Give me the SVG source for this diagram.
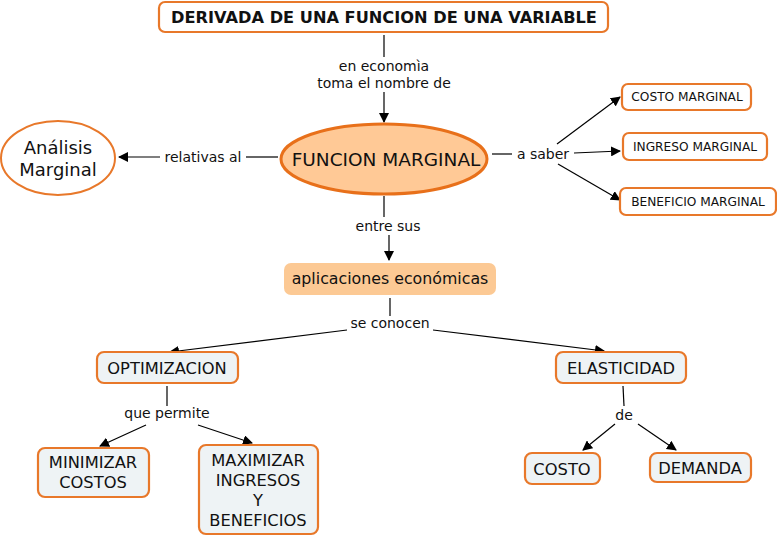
<svg xmlns="http://www.w3.org/2000/svg" width="777" height="536" viewBox="0 0 777 536">
<defs>
<marker id="ah" markerWidth="10" markerHeight="10" refX="9" refY="5" orient="auto" markerUnits="userSpaceOnUse" viewBox="0 0 10 10">
<path d="M0,0 L10,5 L0,10 z" fill="#000"/>
</marker>
<style>
text{font-family:"DejaVu Sans","Verdana",sans-serif;fill:#111;text-anchor:middle}
.box{fill:#eef3f5;stroke:#e8782a;stroke-width:2.2}
.wbox{fill:#fff;stroke:#e8782a;stroke-width:2.2}
.ln{stroke:#000;stroke-width:1.2;fill:none}
.ar{stroke:#000;stroke-width:1.2;fill:none;marker-end:url(#ah)}
.lbl{font-size:14px}
.n{font-size:16.3px}
.s{font-size:12.2px}
</style>
</defs>
<rect width="777" height="536" fill="#fff"/>
<g id="connectors">
<line class="ln" x1="384" y1="35" x2="384" y2="57"/>
<line class="ar" x1="384" y1="92" x2="384" y2="122"/>
<line class="ln" x1="278" y1="157" x2="246" y2="157"/>
<line class="ar" x1="160" y1="157" x2="119" y2="157"/>
<line class="ln" x1="492" y1="154" x2="512" y2="154"/>
<line class="ar" x1="557" y1="144" x2="620" y2="97"/>
<line class="ar" x1="574" y1="153" x2="620" y2="151"/>
<line class="ar" x1="558" y1="164" x2="620" y2="200"/>
<line class="ln" x1="384" y1="196" x2="384" y2="217"/>
<line class="ar" x1="389" y1="235" x2="389" y2="260"/>
<line class="ln" x1="390" y1="298" x2="390" y2="316"/>
<line class="ar" x1="347" y1="330" x2="170" y2="352"/>
<line class="ar" x1="433" y1="330" x2="604" y2="351"/>
<line class="ln" x1="167" y1="386" x2="167" y2="406"/>
<line class="ar" x1="146" y1="425" x2="100" y2="446"/>
<line class="ar" x1="198" y1="425" x2="252" y2="443"/>
<line class="ln" x1="623" y1="386" x2="624" y2="406"/>
<line class="ar" x1="615" y1="424" x2="583" y2="450"/>
<line class="ar" x1="638" y1="424" x2="676" y2="450"/>
<text class="lbl" x="384" y="71">en economìa</text>
<text class="lbl" x="384" y="88">toma el nombre de</text>
<text class="lbl" x="203" y="162">relativas al</text>
<text class="lbl" x="543" y="159">a saber</text>
<text class="lbl" x="388" y="231">entre sus</text>
<text class="lbl" x="390" y="328">se conocen</text>
<text class="lbl" x="167" y="418">que permite</text>
<text class="lbl" x="624" y="420">de</text>
</g>
<g id="title">
<rect x="159" y="2" width="449" height="30" rx="6" class="wbox" stroke-width="3"/>
<text x="384" y="23" font-size="16.2" font-weight="bold">DERIVADA DE UNA FUNCION DE UNA VARIABLE</text>
</g>
<g id="funcion-marginal">
<ellipse cx="384" cy="159" rx="103" ry="35" fill="#ffc996" stroke="#e8701a" stroke-width="3"/>
<text x="386" y="166" font-size="18.5">FUNCION MARGINAL</text>
</g>
<g id="analisis-marginal">
<ellipse cx="58" cy="158" rx="57" ry="37" fill="#fff" stroke="#e8782a" stroke-width="2"/>
<text x="58" y="154" font-size="18">Análisis</text>
<text x="58" y="176" font-size="18">Marginal</text>
</g>
<g id="costo-marginal">
<rect x="622" y="84" width="129" height="26" rx="6" class="wbox"/>
<text class="s" x="687" y="101">COSTO MARGINAL</text>
</g>
<g id="ingreso-marginal">
<rect x="623" y="133" width="144" height="27" rx="6" class="wbox"/>
<text class="s" x="695" y="151">INGRESO MARGINAL</text>
</g>
<g id="beneficio-marginal">
<rect x="620" y="188" width="156" height="27" rx="6" class="wbox"/>
<text class="s" x="698" y="206">BENEFICIO MARGINAL</text>
</g>
<g id="aplicaciones">
<rect x="284" y="263" width="212" height="32" rx="7" fill="#fcc994"/>
<text x="390" y="284" font-size="15.8">aplicaciones económicas</text>
</g>
<g id="optimizacion">
<rect x="97" y="352" width="141" height="31" rx="7" class="box"/>
<text class="n" x="167" y="374">OPTIMIZACION</text>
</g>
<g id="elasticidad">
<rect x="556" y="352" width="130" height="31" rx="7" class="box"/>
<text class="n" x="621" y="374">ELASTICIDAD</text>
</g>
<g id="minimizar">
<rect x="38" y="448" width="111" height="49" rx="7" class="box"/>
<text class="n" x="93" y="468">MINIMIZAR</text>
<text class="n" x="93" y="488">COSTOS</text>
</g>
<g id="maximizar">
<rect x="199" y="445" width="119" height="89" rx="7" class="box"/>
<text class="n" x="258" y="466">MAXIMIZAR</text>
<text class="n" x="258" y="486">INGRESOS</text>
<text class="n" x="258" y="506">Y</text>
<text class="n" x="258" y="526">BENEFICIOS</text>
</g>
<g id="costo">
<rect x="525" y="453" width="75" height="31" rx="7" class="box"/>
<text class="n" x="562" y="475">COSTO</text>
</g>
<g id="demanda">
<rect x="650" y="453" width="101" height="29" rx="7" class="box"/>
<text class="n" x="700" y="474">DEMANDA</text>
</g>
</svg>
